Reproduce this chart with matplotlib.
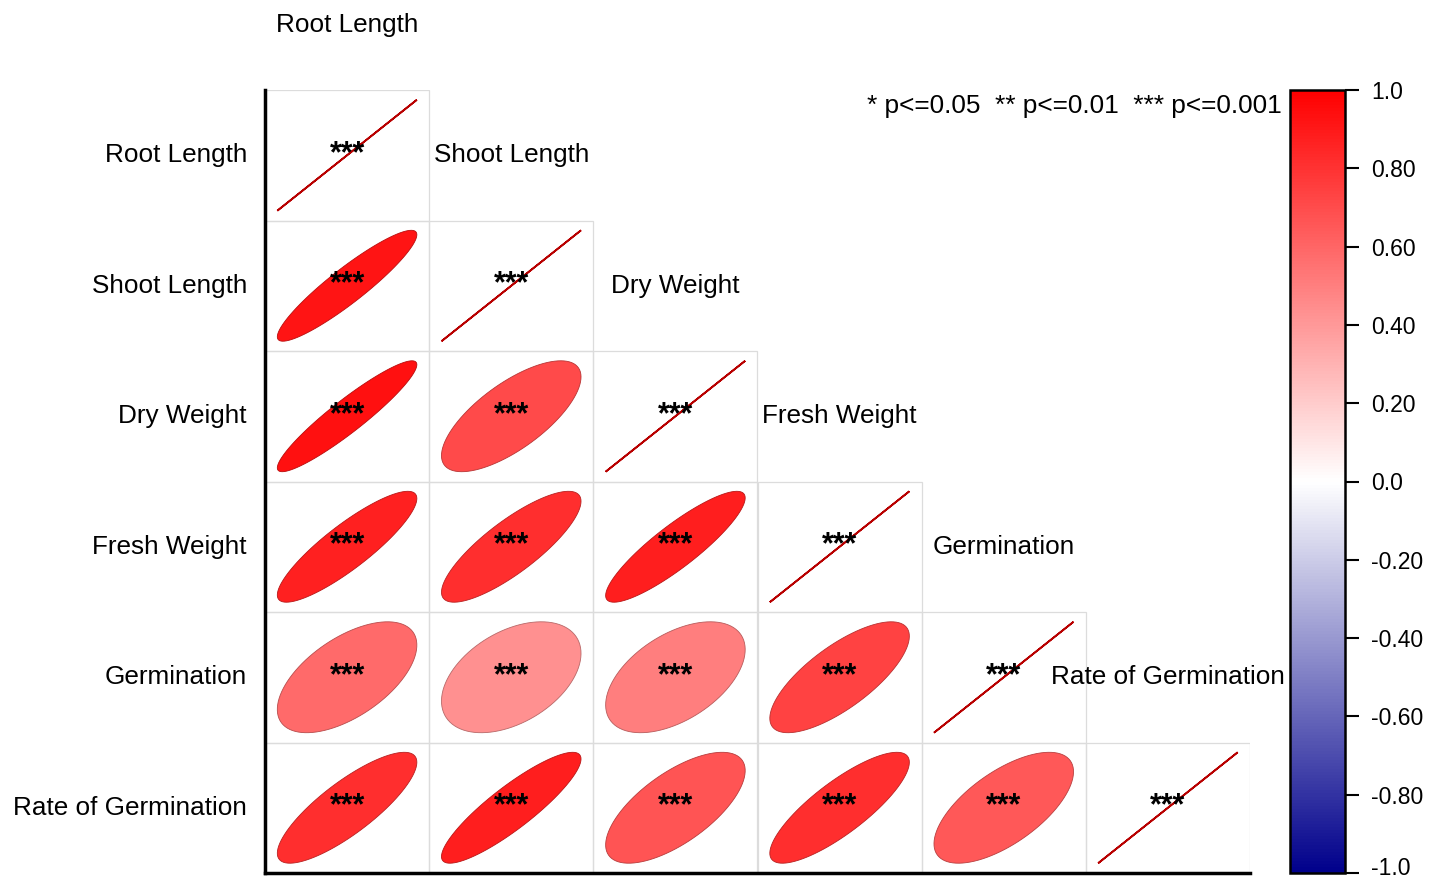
import numpy as np
import matplotlib
matplotlib.use("Agg")
import matplotlib.pyplot as plt
import matplotlib.transforms as mtransforms
from matplotlib.colors import LinearSegmentedColormap, Normalize
from matplotlib.colorbar import ColorbarBase

plt.rcParams['font.family'] = ['Liberation Sans', 'DejaVu Sans']

# Variables and lower-triangle correlation coefficients (row i, columns 0..i)
variables = ["Root Length", "Shoot Length", "Dry Weight", "Fresh Weight",
             "Germination", "Rate of Germination"]
corr_rows = [
    [1.00],
    [0.92, 1.00],
    [0.93, 0.71, 1.00],
    [0.87, 0.82, 0.88, 1.00],
    [0.58, 0.43, 0.50, 0.74, 1.00],
    [0.82, 0.88, 0.67, 0.82, 0.65, 1.00],
]
sig_rows = [
    ["***"],
    ["***", "***"],
    ["***", "***", "***"],
    ["***", "***", "***", "***"],
    ["***", "***", "***", "***", "***"],
    ["***", "***", "***", "***", "***", "***"],
]
cbar_ticks = [-1.0, -0.8, -0.6, -0.4, -0.2, 0.0, 0.2, 0.4, 0.6, 0.8, 1.0]
cbar_labels = ["-1.0", "-0.80", "-0.60", "-0.40", "-0.20", "0.0",
               "0.20", "0.40", "0.60", "0.80", "1.0"]
legend_text = "* p<=0.05  ** p<=0.01  *** p<=0.001"

cmap = LinearSegmentedColormap.from_list("bwr_corr", ["#00008B", "#FFFFFF", "#FF0000"])
norm = Normalize(vmin=-1, vmax=1)


def ellipse_xy(r, cx, cy, scale=0.85, n=99):
    """Correlation ellipse: degenerates to a diagonal line for r = 1."""
    t = np.linspace(0, 2 * np.pi, n)
    d = np.arccos(np.clip(r, -1, 1))
    x = cx + scale * np.cos(t + d / 2) / 2
    y = cy + scale * np.cos(t - d / 2) / 2
    return x, y


n = len(variables)
fig = plt.figure(figsize=(14.36, 8.82), dpi=100)
ax = fig.add_axes([265 / 1436, 9 / 882, 985 / 1436, 783 / 882])
ax.set_xlim(0, n)
ax.set_ylim(0, n)

for i, row in enumerate(corr_rows):
    cy = n - i - 0.5
    for j, r in enumerate(row):
        cx = j + 0.5
        # light cell frame
        ax.add_patch(plt.Rectangle((j, n - i - 1), 1, 1, fill=False,
                                   edgecolor="#dcdcdc", linewidth=0.9, zorder=1))
        face = np.array(cmap(norm(r)))
        edge = face.copy()
        edge[:3] *= 0.72
        x, y = ellipse_xy(r, cx, cy)
        ax.fill(x, y, facecolor=face, edgecolor=edge,
                linewidth=1.3 if r >= 0.999 else 0.6, zorder=2)
        ax.text(cx, cy + 0.01, sig_rows[i][j], ha="center", va="center",
                fontsize=22, fontweight="bold", color="black", zorder=3)

# row labels on the left, column labels just above each diagonal cell
for i, name in enumerate(variables):
    ax.text(-0.11, n - i - 0.5, name, ha="right", va="center", fontsize=18.8)
    ax.text(i + 0.5, n - i + 0.5, name, ha="center", va="center", fontsize=18.8,
            clip_on=False)

ax.text(6.195, 5.88, legend_text, ha="right", va="center", fontsize=18.9)

ax.set_xticks([])
ax.set_yticks([])
for side in ["top", "right"]:
    ax.spines[side].set_visible(False)
for side in ["left", "bottom"]:
    ax.spines[side].set_linewidth(2.5)
    ax.spines[side].set_color("black")

cax = fig.add_axes([1290 / 1436, 9 / 882, 55 / 1436, 783 / 882])
cb = ColorbarBase(cax, cmap=cmap, norm=norm, orientation="vertical")
cb.set_ticks(cbar_ticks)
cb.set_ticklabels(cbar_labels)
cb.outline.set_linewidth(1.8)
cax.tick_params(axis="y", length=10, width=1.5, labelsize=16.5, pad=9)

# nudge the lowest tick label up so it stays inside the canvas
low_label = cax.get_yticklabels()[0]
low_label.set_transform(low_label.get_transform() +
                        mtransforms.ScaledTranslation(0, 5 / 72, fig.dpi_scale_trans))

fig.savefig("out.png", dpi=100, facecolor="white")
